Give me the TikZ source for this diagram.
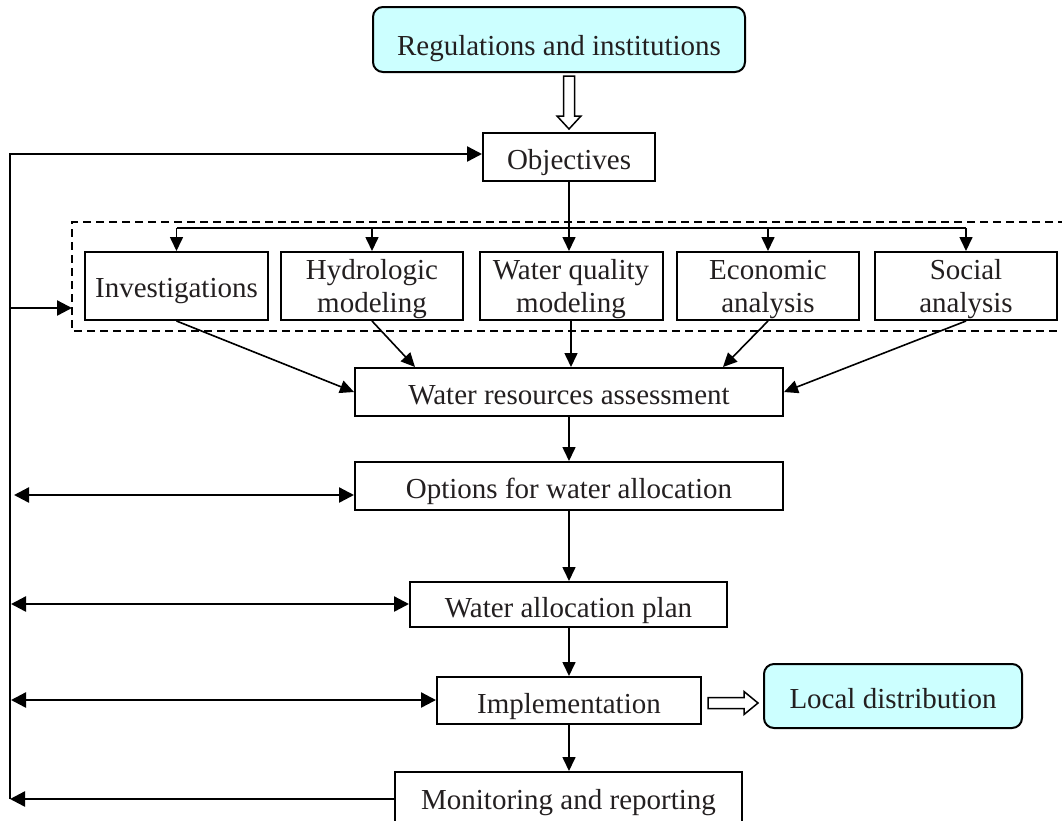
\documentclass[tikz,border=0pt]{standalone}
\usepackage{fontspec}
\setmainfont{Liberation Serif}
\usetikzlibrary{arrows.meta,calc}
\definecolor{panel}{RGB}{204,255,255}
\definecolor{ink}{RGB}{35,31,32}
% two centred lines, first baseline set 7pt above the box centre
\newcommand\twolines[2]{\raisebox{0pt}[20pt][34pt]{\begin{tabular}[t]{@{}c@{}}#1\\#2\end{tabular}}}
\begin{document}
\begin{tikzpicture}[x=1pt,y=-1pt,
  every node/.style={font=\fontsize{29}{33}\selectfont, text=ink},
  box/.style={draw=black, line width=2pt, inner sep=0pt, align=center,
    text height=28pt, text depth=3pt},
  pair/.style={draw=black, line width=2pt, inner sep=0pt},
  soft/.style={box, rounded corners=10pt, fill=panel},
  flow/.style={line width=1.6pt, -{Triangle[length=14pt,width=13pt]}},
  loop/.style={line width=2.4pt},
  bigtip/.style={-{Triangle[length=15pt,width=15pt]}},
  bothtips/.style={{Triangle[length=15pt,width=15pt]}-{Triangle[length=15pt,width=15pt]}},
  hollow/.style={draw=black, line width=1.5pt, fill=white, line join=miter},
  group/.style={draw=black, line width=2pt, dash pattern=on 8pt off 5pt}]

\useasboundingbox (0,0) rectangle (1062,820);

% main chain
\node[soft, minimum width=372pt, minimum height=65pt, text height=31pt, text depth=0pt]
  (reg) at (559,39.5) {Regulations and institutions};
\node[box, minimum width=172pt, minimum height=48pt] (obj) at (569,157) {Objectives};

\node[box, minimum width=183pt, minimum height=68pt, text height=27pt, text depth=5pt]
  (inv) at (176.5,286) {Investigations};
\node[pair, minimum width=182pt, minimum height=68pt] (hyd) at (372,286) {\twolines{Hydrologic}{modeling}};
\node[pair, minimum width=183pt, minimum height=68pt] (wq)  at (571,286) {\twolines{Water quality}{modeling}};
\node[pair, minimum width=182pt, minimum height=68pt] (eco) at (768,286) {\twolines{Economic}{analysis}};
\node[pair, minimum width=182pt, minimum height=68pt] (soc) at (966,286) {\twolines{Social}{analysis}};

\node[box, minimum width=428pt, minimum height=48pt] (wra) at (569,392) {Water resources assessment};
\node[box, minimum width=428pt, minimum height=48pt] (opt) at (569,486) {Options for water allocation};
\node[box, minimum width=317pt, minimum height=45pt] (wap) at (568.5,604.5) {Water allocation plan};
\node[box, minimum width=264pt, minimum height=47pt] (imp) at (569,700.5) {Implementation};
\node[box, minimum width=347pt, minimum height=50pt] (mon) at (568.5,797) {Monitoring and reporting};
\node[soft, minimum width=258pt, minimum height=64pt] (loc) at (893,696) {Local distribution};

% dashed group around the five analyses (open to the right)
\draw[group] (1066,222) -- (72,222) -- (72,331) -- (1066,331);
\coordinate (grpw) at (72,308);

% hollow arrow from regulations to objectives
\draw[hollow] ($(obj.north)+(0,-3)$) -- ++(12,-13) -- ++(-6.5,0) -- ++(0,-40)
  -- ++(-11,0) -- ++(0,40) -- ++(-6.5,0) -- cycle;

% objectives fan-out
\coordinate (bus) at (569,228);
\draw[line width=1.6pt] (bus -| inv.north) -- (bus -| soc.north);
\draw[flow] (obj.south) -- (obj.south |- wq.north);
\foreach \n in {inv,hyd,eco,soc}
  \draw[flow] (bus -| \n.north) -- (\n.north);

% analyses feed the assessment
\draw[flow] (inv.south) -- (wra.west);
\draw[flow] (hyd.south) -- ($(wra.north west)+(61,0)$);
\draw[flow] (wq.south) -- (wq.south |- wra.north);
\draw[flow] (eco.south) -- ($(wra.north east)+(-61,0)$);
\draw[flow] (soc.south) -- (wra.east);

% downward chain
\draw[flow] (wra.south) -- (opt.north);
\draw[flow] (opt.south) -- (opt.south |- wap.north);
\draw[flow] (wap.south -| imp.north) -- (imp.north);
\draw[flow] (imp.south) -- (imp.south |- mon.north);

% hollow arrow to local distribution
\draw[hollow] ($(loc.west)+(-5,7)$) -- ++(-14,-11.5) -- ++(0,6) -- ++(-36,0)
  -- ++(0,11) -- ++(36,0) -- ++(0,6) -- cycle;

% feedback loop on the left
\coordinate (fbtop) at (10,154);
\coordinate (fbbot) at (10,799);
\draw[loop, bigtip] (fbbot) -- (fbtop) -- (fbtop -| obj.west);
\draw[loop, bigtip] (grpw -| fbtop) -- (grpw);
\coordinate (o1) at (14,495);
\coordinate (o2) at (11,604);
\coordinate (o3) at (11,700);
\draw[loop, bothtips] (o1) -- (o1 -| opt.west);
\draw[loop, bothtips] (o2) -- (o2 -| wap.west);
\draw[loop, bothtips] (o3) -- (o3 -| imp.west);
\draw[loop, bigtip] (fbbot -| mon.west) -- (fbbot);
\end{tikzpicture}
\end{document}
